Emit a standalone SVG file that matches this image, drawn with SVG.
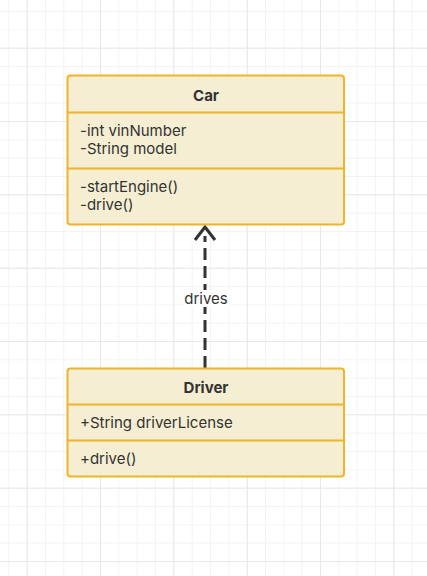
<svg xmlns="http://www.w3.org/2000/svg" width="427" height="576" viewBox="0 0 427 576">
<defs>
<pattern id="minor" x="8.333" y="11" width="18.333" height="18.333" patternUnits="userSpaceOnUse">
<path d="M0 0.5H18.333M0.5 0V18.333" fill="none" stroke="#f3f3f3" stroke-width="1"/>
</pattern>
<pattern id="major" x="26.667" y="47.667" width="73.333" height="73.333" patternUnits="userSpaceOnUse">
<path d="M0 0.5H73.333M0.5 0V73.333" fill="none" stroke="#e8e8e8" stroke-width="1"/>
</pattern>
</defs>
<style>
.box{fill:#f5eed2;stroke:#f0b429;stroke-width:2}
.div{stroke:#f0b429;stroke-width:2}
.t{font-family:Inter,"Noto Sans",sans-serif;font-size:15px;fill:#333}
.h{font-weight:bold;text-anchor:middle}
</style>
<rect width="427" height="576" fill="#ffffff"/>
<rect width="427" height="576" fill="url(#minor)"/>
<rect width="427" height="576" fill="url(#major)"/>
<g id="connectors">
<path d="M205 368V236" fill="none" stroke="#333" stroke-width="3" stroke-dasharray="12 6"/>
<path d="M195 240L205 227L215 240" fill="none" stroke="#333" stroke-width="3"/>
<rect x="183" y="290" width="46" height="17" fill="#ffffff"/>
<text class="t" x="206" y="303.5" text-anchor="middle">drives</text>
</g>
<g id="car">
<rect class="box" x="67.5" y="75.5" width="276.5" height="149" rx="3"/>
<line class="div" x1="67.5" y1="112.5" x2="344" y2="112.5"/>
<line class="div" x1="67.5" y1="168.5" x2="344" y2="168.5"/>
<text class="t h" x="206" y="100.5">Car</text>
<text class="t" x="80" y="135.5">-int vinNumber</text>
<text class="t" x="80" y="154">-String model</text>
<text class="t" x="80" y="191.5">-startEngine()</text>
<text class="t" x="80" y="210">-drive()</text>
</g>
<g id="driver">
<rect class="box" x="67.5" y="368.5" width="276.5" height="108" rx="3"/>
<line class="div" x1="67.5" y1="404.5" x2="344" y2="404.5"/>
<line class="div" x1="67.5" y1="440.5" x2="344" y2="440.5"/>
<text class="t h" x="206" y="392.5">Driver</text>
<text class="t" x="80" y="427.5">+String driverLicense</text>
<text class="t" x="80" y="464">+drive()</text>
</g>
</svg>
